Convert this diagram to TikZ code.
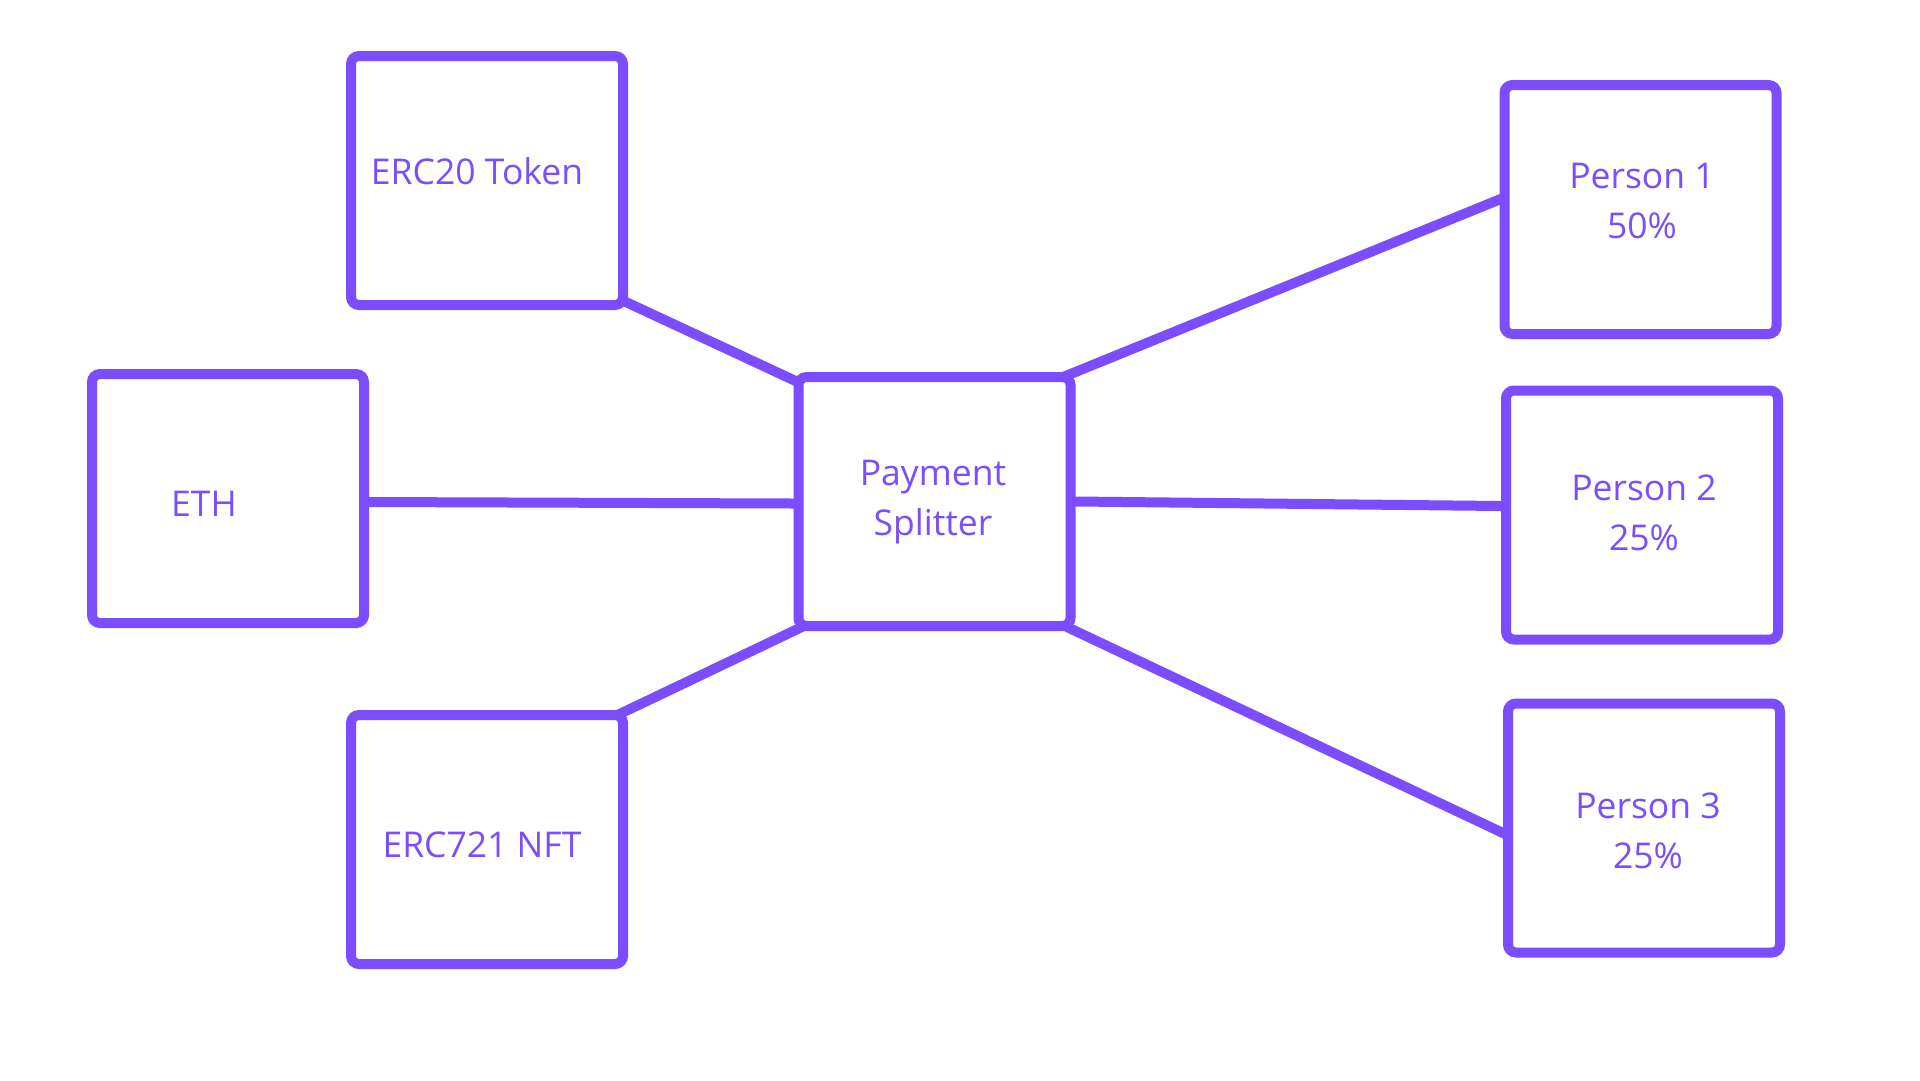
\documentclass[tikz,border=0pt]{standalone}
\usepackage{fontspec}
\setmainfont{Open Sans}
\usetikzlibrary{backgrounds}
\definecolor{pv}{RGB}{124,77,255}
\begin{document}
\begin{tikzpicture}[x=1pt,y=-1pt,
  box/.style={draw=pv, line width=10pt, rounded corners=8pt, minimum width=272pt, minimum height=249pt, inner sep=0pt, fill=white},
  lbl/.style={text=pv, font=\fontsize{35.5}{50}\selectfont, align=center, anchor=base, inner sep=0pt},
  link/.style={draw=pv, line width=10pt, shorten <=-12pt, shorten >=-12pt}]
\useasboundingbox (0,0) rectangle (1920,1080);
\node[box] (e20) at (487,180.5) {};
\node[box] (eth) at (228,498.5) {};
\node[box] (e721) at (487,839.5) {};
\node[box] (pay) at (934.5,501.5) {};
\node[box] (p1) at (1640.5,209.5) {};
\node[box] (p2) at (1642,515) {};
\node[box] (p3) at (1644,828) {};
\begin{scope}[on background layer]
\fill[white] (0,0) rectangle (1920,1080);
\draw[link] ([yshift=7pt]e20.south east) -- ([yshift=-8pt]pay.north west);
\draw[link] ([yshift=-3.5pt]eth.east) -- ([yshift=-2pt]pay.west);
\draw[link] (e721.north east) -- (pay.south west);
\draw[link] (pay.north east) -- ([yshift=10pt]p1.west);
\draw[link] (pay.east) -- ([yshift=9pt]p2.west);
\draw[link] (pay.south east) -- ([yshift=-5pt]p3.west);
\end{scope}
\node[lbl] (t20) at (477,184) {ERC20 Token};
\node[lbl] (teth) at (204,516) {ETH};
\node[lbl] (t721) at (482,857) {ERC721 NFT};
\node[lbl] (tpay) at (933,535) {Payment\\Splitter};
\node[lbl] (tp1) at (1642,238) {Person 1\\50\%};
\node[lbl] (tp2) at (1644,550) {Person 2\\25\%};
\node[lbl] (tp3) at (1648,868) {Person 3\\25\%};
\end{tikzpicture}
\end{document}
